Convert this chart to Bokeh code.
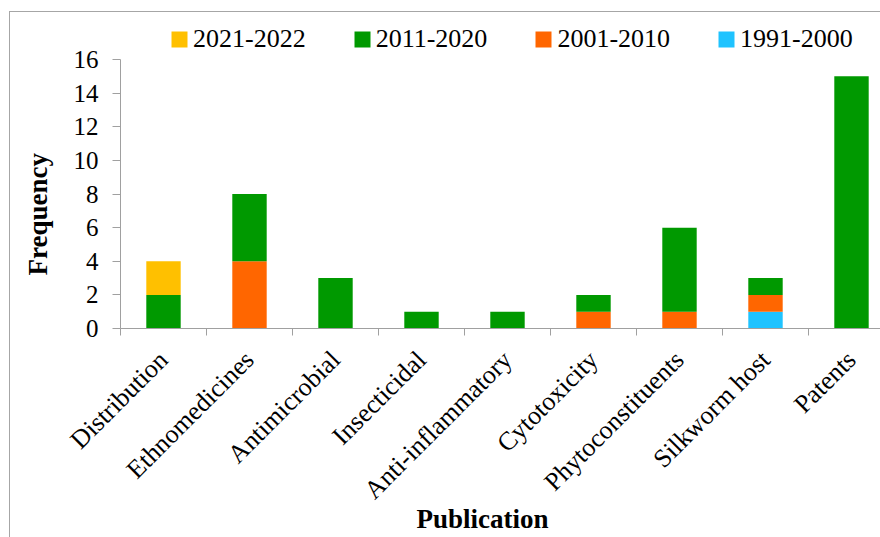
import math
from bokeh.plotting import figure
from bokeh.models import (ColumnDataSource, Range1d, FixedTicker, SingleIntervalTicker,
                          Legend, LegendItem, Title)
from bokeh.embed import file_html
from bokeh.resources import INLINE

categories = ["Distribution", "Ethnomedicines", "Antimicrobial", "Insecticidal",
              "Anti-inflammatory", "Cytotoxicity", "Phytoconstituents",
              "Silkworm host", "Patents"]
periods = ["1991-2000", "2001-2010", "2011-2020", "2021-2022"]
v1991_2000 = [0, 0, 0, 0, 0, 0, 0, 1, 0]
v2001_2010 = [0, 4, 0, 0, 0, 1, 1, 1, 0]
v2011_2020 = [2, 4, 3, 1, 1, 1, 5, 1, 15]
v2021_2022 = [2, 0, 0, 0, 0, 0, 0, 0, 0]
colors = ["#1FC3FF", "#FF6600", "#009900", "#FFC000"]

FONT = "Liberation Serif"
AXIS_GRAY = "#a0a0a0"
BORDER_GRAY = "#a6a6a6"

# layout (pixels): frame from y=15 to y=328, value 16 at y=59
FRAME_TOP, AXIS_Y, TOP16 = 15, 328, 59
px_per_unit = (AXIS_Y - TOP16) / 16
y_end = (AXIS_Y - FRAME_TOP) / px_per_unit

pos = [i + 0.5 for i in range(len(categories))]
source = ColumnDataSource(dict(x=pos, category=categories,
                               **dict(zip(periods, [v1991_2000, v2001_2010, v2011_2020, v2021_2022]))))

p = figure(width=880, height=537, output_backend="svg", toolbar_location=None,
           x_range=Range1d(0, 760 / 86), y_range=Range1d(0, y_end),
           min_border_left=120, min_border_right=0, min_border_top=FRAME_TOP,
           min_border_bottom=537 - AXIS_Y)
p.outline_line_color = None
p.background_fill_color = None
p.border_fill_color = None
# thin chart-area border (left and top edges) drawn behind the transparent canvas
p.styles = {
    "background-color": "#ffffff",
    "background-image": f"linear-gradient({BORDER_GRAY}, {BORDER_GRAY}), linear-gradient({BORDER_GRAY}, {BORDER_GRAY})",
    "background-position": "9px 11px, 9px 11px",
    "background-size": "871px 1px, 1px 526px",
    "background-repeat": "no-repeat",
}
p.xgrid.visible = False
p.ygrid.visible = False

rs = p.vbar_stack(periods, x="x", width=0.4, fill_color=colors, line_color=None, source=source)

# x axis: labels at centres, tick marks at category boundaries
xa = p.xaxis[0]
xa.ticker = FixedTicker(ticks=pos, minor_ticks=list(range(len(categories) + 1)))
xa.major_label_overrides = {x: c for x, c in zip(pos, categories)}
xa.major_label_orientation = math.pi / 4
xa.major_tick_out = 0
xa.major_tick_in = 0
xa.minor_tick_out = 7
xa.minor_tick_in = 0
xa.minor_tick_line_color = AXIS_GRAY
xa.axis_line_color = AXIS_GRAY
xa.major_label_text_font = FONT
xa.major_label_text_font_size = "26px"
xa.major_label_text_color = "#000000"
xa.major_label_standoff = 20

ya = p.yaxis[0]
ya.ticker = SingleIntervalTicker(interval=2, num_minor_ticks=0)
ya.bounds = (0, 16)
ya.major_tick_out = 8
ya.major_tick_in = 0
ya.minor_tick_out = 0
ya.major_tick_line_color = AXIS_GRAY
ya.axis_line_color = AXIS_GRAY
ya.major_label_text_font = FONT
ya.major_label_text_font_size = "25px"
ya.major_label_text_color = "#000000"
ya.major_label_standoff = 14

p.add_layout(Title(text="Frequency", align="left", offset=53, text_font=FONT,
                   text_font_size="27px", text_font_style="bold", text_color="#000000",
                   standoff=35), "left")
p.add_layout(Title(text="Publication", align="left", offset=296, text_font=FONT,
                   text_font_size="27px", text_font_style="bold", text_color="#000000",
                   standoff=-31), "below")

items = [LegendItem(label=periods[i], renderers=[rs[i]]) for i in reversed(range(len(periods)))]
legend = Legend(items=items, orientation="horizontal", location=(49, 274),
                glyph_width=20, glyph_height=20, label_standoff=4, spacing=46,
                padding=0, margin=0, border_line_color=None, background_fill_alpha=0,
                label_text_font=FONT, label_text_font_size="26px", label_text_color="#000000")
p.add_layout(legend, "center")

open("out.html", "w").write(file_html(p, INLINE))
